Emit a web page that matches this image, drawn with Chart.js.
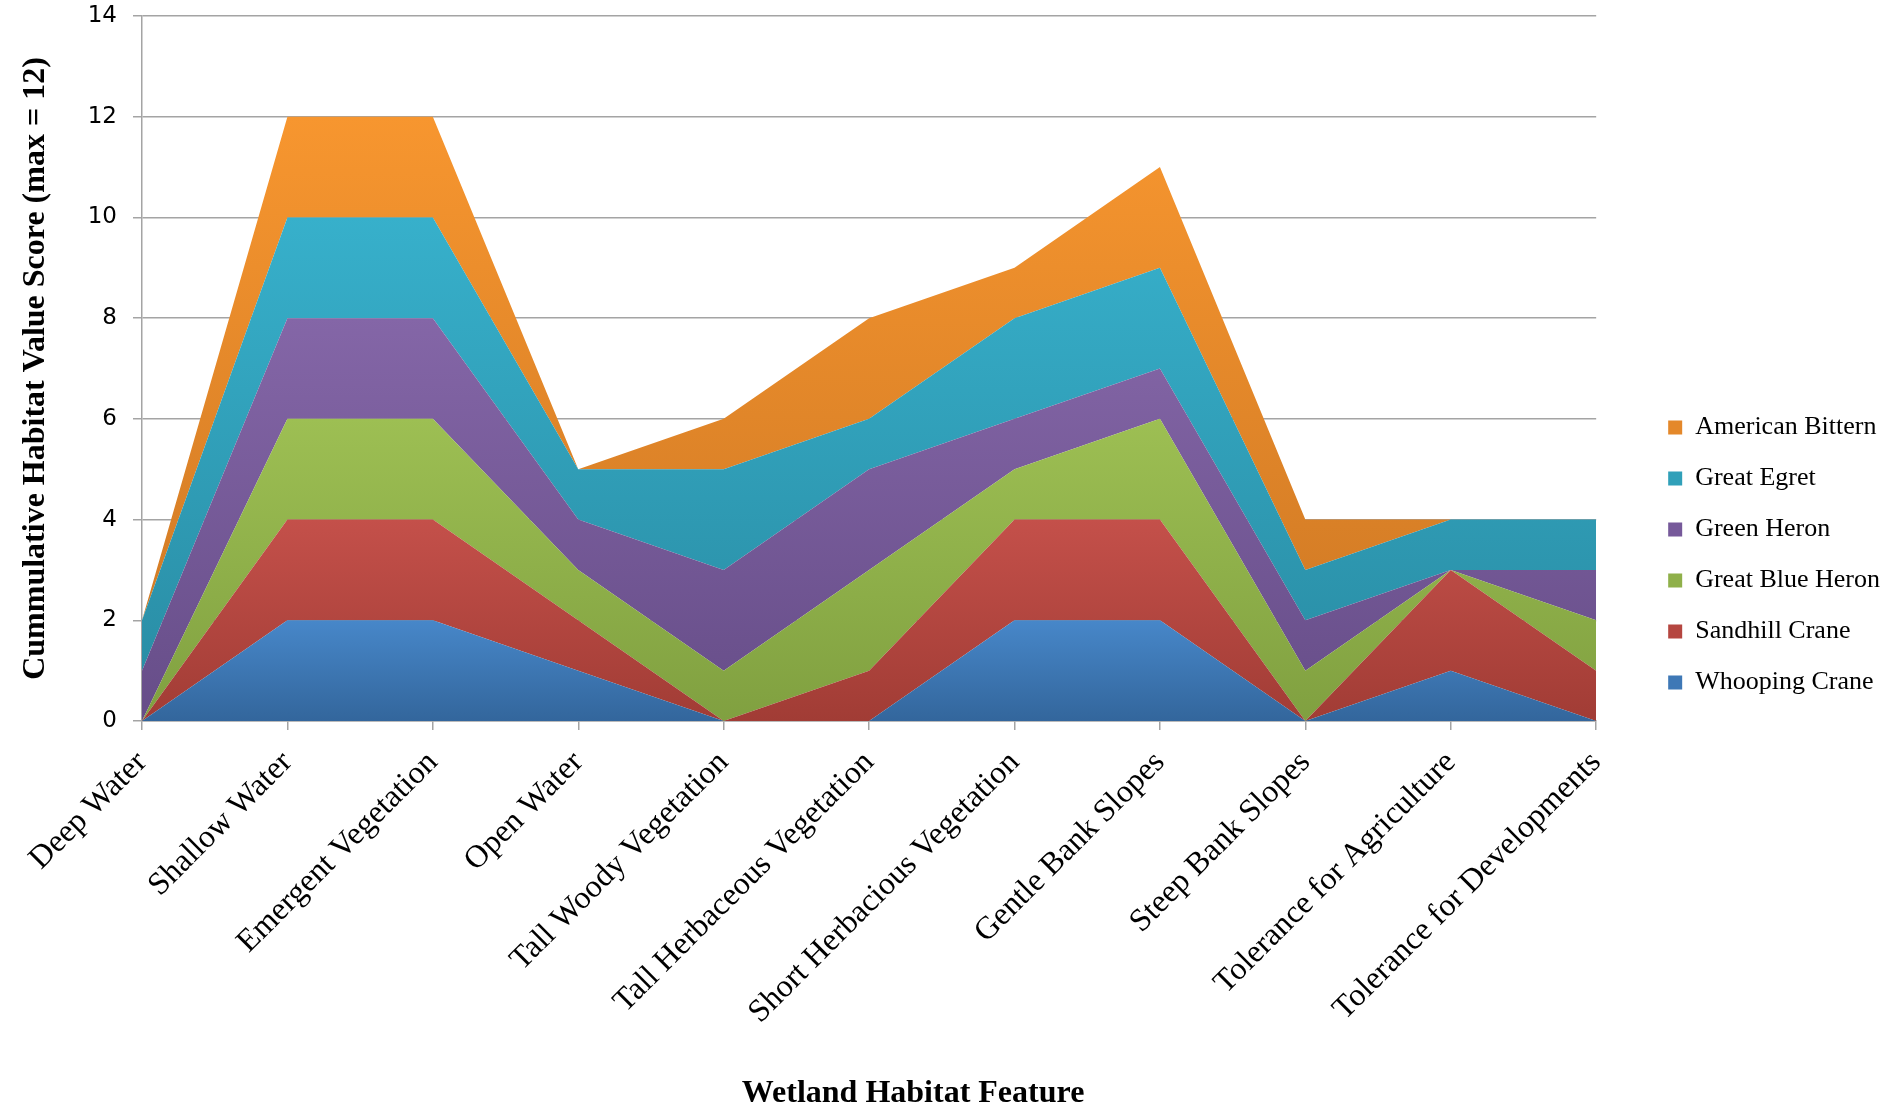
<!DOCTYPE html>
<html>
<head>
<meta charset="utf-8">
<title>Cumulative Habitat Value Score</title>
<script src="https://cdn.jsdelivr.net/npm/chart.js@4/dist/chart.umd.min.js"></script>
<style>
  html, body { margin: 0; padding: 0; background: #fff; }
</style>
</head>
<body>
<canvas id="habitat-chart" width="1893" height="1107"></canvas>
<script>
const features = [
  'Deep Water',
  'Shallow Water',
  'Emergent Vegetation',
  'Open Water',
  'Tall Woody Vegetation',
  'Tall Herbaceous Vegetation',
  'Short Herbacious Vegetation',
  'Gentle Bank Slopes',
  'Steep Bank Slopes',
  'Tolerance for Agriculture',
  'Tolerance for Developments',
];

// habitat value score per species, stacked bottom to top
const whoopingCrane = [0, 2, 2, 1, 0, 0, 2, 2, 0, 1, 0];
const sandhillCrane = [0, 2, 2, 1, 0, 1, 2, 2, 0, 2, 1];
const greatBlueHeron = [0, 2, 2, 1, 1, 2, 1, 2, 1, 0, 1];
const greenHeron = [1, 2, 2, 1, 2, 2, 1, 1, 1, 0, 1];
const greatEgret = [1, 2, 2, 1, 2, 1, 2, 2, 1, 1, 1];
const americanBittern = [0, 2, 2, 0, 1, 2, 1, 2, 1, 0, 0];

const gridColor = '#a4a4a4';

// light (top) and dark (bottom) shade of each band
const shades = [
  { light: '#4787c9', dark: '#33669c', swatch: '#3e78b6' },
  { light: '#c4504a', dark: '#a13c35', swatch: '#b54640' },
  { light: '#9dbf53', dark: '#80a040', swatch: '#8fb04a' },
  { light: '#8466a7', dark: '#664d88', swatch: '#76599a' },
  { light: '#37b0cb', dark: '#2a8ea6', swatch: '#30a0b9' },
  { light: '#f7962f', dark: '#d27b25', swatch: '#e4882a' },
];

// vertical gradient spanning the band's own extent
const bandGradient = (context) => {
  const { chart, datasetIndex } = context;
  const { light, dark } = shades[datasetIndex];
  if (!chart.chartArea) return light;
  const sets = chart.data.datasets;
  let top = 0;
  let bottom = Infinity;
  features.forEach((_, i) => {
    let below = 0;
    for (let d = 0; d < datasetIndex; d += 1) below += sets[d].data[i];
    top = Math.max(top, below + sets[datasetIndex].data[i]);
    bottom = Math.min(bottom, below);
  });
  const y = chart.scales.y;
  const gradient = chart.ctx.createLinearGradient(0, y.getPixelForValue(top), 0, y.getPixelForValue(bottom));
  gradient.addColorStop(0, light);
  gradient.addColorStop(1, dark);
  return gradient;
};

const band = (label, data, index) => ({
  label,
  data,
  fill: index === 0 ? 'origin' : '-1',
  backgroundColor: bandGradient,
  borderWidth: 0,
  pointRadius: 0,
  tension: 0,
});

const serif = 'Liberation Serif, Times New Roman, serif';

new Chart(document.getElementById('habitat-chart'), {
  type: 'line',
  data: {
    labels: features,
    datasets: [
      band('Whooping Crane', whoopingCrane, 0),
      band('Sandhill Crane', sandhillCrane, 1),
      band('Great Blue Heron', greatBlueHeron, 2),
      band('Green Heron', greenHeron, 3),
      band('Great Egret', greatEgret, 4),
      band('American Bittern', americanBittern, 5),
    ],
  },
  options: {
    responsive: false,
    animation: false,
    layout: { padding: { top: 3, left: 0, right: 3, bottom: 0 } },
    plugins: {
      tooltip: { enabled: false },
      legend: {
        position: 'right',
        reverse: true,
        labels: {
          boxWidth: 14,
          boxHeight: 14,
          padding: 25,
          color: '#000',
          font: { family: serif, size: 26 },
          generateLabels(chart) {
            return Chart.defaults.plugins.legend.labels.generateLabels(chart).map((item) => ({
              ...item,
              fillStyle: shades[item.datasetIndex].swatch,
              strokeStyle: shades[item.datasetIndex].swatch,
              lineWidth: 0,
            }));
          },
        },
      },
    },
    scales: {
      x: {
        grid: {
          drawOnChartArea: false,
          tickLength: 9,
          color: gridColor,
          lineWidth: 1.5,
        },
        border: { color: gridColor, width: 1.5 },
        ticks: {
          autoSkip: false,
          maxRotation: 45,
          minRotation: 45,
          padding: 14,
          color: '#000',
          font: { family: serif, size: 32 },
        },
        title: {
          display: true,
          text: '           Wetland Habitat Feature',
          color: '#000',
          padding: { top: 0, bottom: -3 },
          font: { family: serif, size: 32, weight: 'bold', lineHeight: 1 },
        },
        afterFit(scale) { scale.height = 386; },
      },
      y: {
        stacked: true,
        min: 0,
        max: 14,
        grid: { color: gridColor, lineWidth: 1.5, tickLength: 9 },
        border: { color: gridColor, width: 1.5 },
        ticks: {
          stepSize: 2,
          padding: 16,
          color: '#000',
          font: { family: 'DejaVu Sans, Verdana, sans-serif', size: 23 },
        },
        title: {
          display: true,
          text: 'Cummulative Habitat Value Score (max = 12)',
          color: '#000',
          padding: { top: 20, bottom: 0 },
          font: { family: serif, size: 32, weight: 'bold', lineHeight: 1 },
        },
        afterFit(scale) {
          scale.width = 142;
          scale.paddingTop = 16;
        },
      },
      // empty strip between the plot and the legend
      gutter: {
        position: 'right',
        grid: { display: false },
        border: { display: false },
        ticks: { display: false },
        afterFit(scale) { scale.width = 47; },
      },
    },
  },
});
</script>
</body>
</html>
